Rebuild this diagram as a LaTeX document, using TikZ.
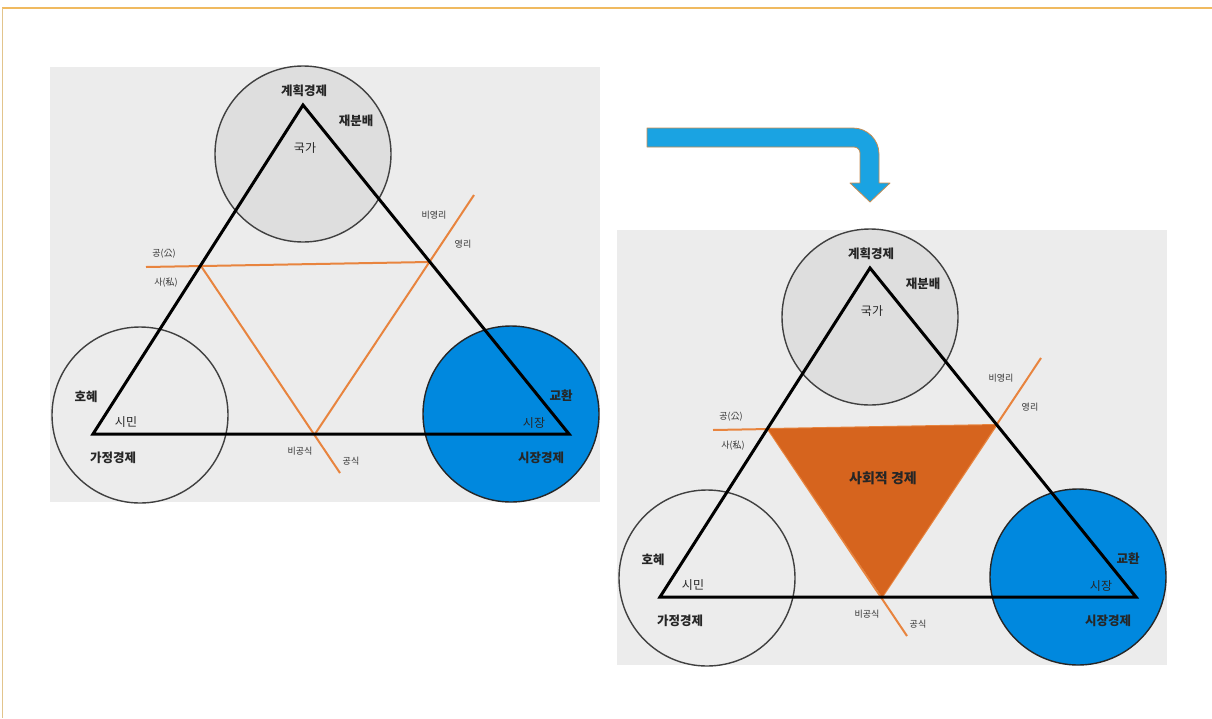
\documentclass[tikz,border=0pt]{standalone}
\usepackage{fontspec}
\setmainfont{Noto Sans CJK KR}
\newfontfamily\kr{Noto Sans CJK KR}
\definecolor{bggray}{RGB}{236,236,236}
\definecolor{topgray}{RGB}{222,222,222}
\definecolor{mblue}{RGB}{0,136,222}
\definecolor{oline}{RGB}{232,132,62}
\definecolor{ofill}{RGB}{214,100,30}
\definecolor{arrblue}{RGB}{26,163,226}
\definecolor{arredge}{RGB}{200,140,80}
\definecolor{frameor}{RGB}{240,186,96}
\definecolor{frameleft}{RGB}{226,196,140}
\tikzset{
  panelbg/.style={fill=bggray, draw=none},
  circ/.style={circle, draw=black!75, line width=1.4pt, minimum size=176pt, inner sep=0pt},
  tri/.style={draw=black, line width=3pt, line join=miter},
  oline/.style={draw=oline, line width=2pt},
  big/.style={font=\kr\fontsize{12.5}{13}\selectfont\bfseries, text=black!85, inner sep=0pt},
  mid/.style={font=\kr\fontsize{12}{13}\selectfont, text=black!85, inner sep=0pt},
  small/.style={font=\kr\fontsize{9}{10}\selectfont, text=black!80, inner sep=0pt},
  social/.style={font=\kr\fontsize{14}{15}\selectfont\bfseries, text=black!85, inner sep=0pt},
  bentarrow/.style={fill=arrblue, draw=arredge, line width=0.8pt, line join=round}
}
\newcommand{\drawpanel}[1]{%
  \fill[panelbg] (50,67) rectangle (600,502);
  \node[circ, fill=topgray] (ctop) at (303,154) {};
  \node[circ] (cleft) at (140,415) {};
  \node[circ, fill=mblue, draw=black!85] (cright) at (511,414) {};
  \coordinate (A) at (303,105);
  \coordinate (B) at (93,434);
  \coordinate (C) at (569,434);
  \coordinate (oL) at (146,267);
  \coordinate (P) at (201,266);
  \coordinate (Q) at (429,262);
  \coordinate (oR) at (474,195);
  \coordinate (R) at (315,434);
  \coordinate (oB) at (340,473);
  \draw[oline] (oL) -- (Q);
  \draw[oline] (P) -- (oB);
  \draw[oline] (oR) -- (R);
  #1
  \draw[tri] (A) -- (B) -- (C) -- cycle;
  \node[big] (t1) at (304,91) {계획경제};
  \node[big] (t2) at (356,121) {재분배};
  \node[mid] (t3) at (305,148) {국가};
  \node[small] (t4) at (434,215) {비영리};
  \node[small] (t5) at (463,244) {영리};
  \node[small] (t6) at (164,254) {공(公)};
  \node[small] (t7) at (166,283) {사(私)};
  \node[big] (t8) at (86,397) {호혜};
  \node[mid] (t9) at (126,422) {시민};
  \node[big] (t10) at (113,458) {가정경제};
  \node[small] (t11) at (300,451) {비공식};
  \node[small] (t12) at (351,461) {공식};
  \node[big] (t13) at (561,396) {교환};
  \node[mid] (t14) at (534,423) {시장};
  \node[big] (t15) at (541,458) {시장경제};
}
\begin{document}
\begin{tikzpicture}[x=1pt,y=-1pt]
\useasboundingbox (0,0) rectangle (1212,718);
\fill[white] (0,0) rectangle (1212,718);
% frame
\coordinate (fTL) at (2,7.5);
\coordinate (fTR) at (1212,7.5);
\coordinate (fBL) at (2,718);
\draw[frameor, line width=2pt] (fTL) -- (fTR);
\draw[frameleft, line width=0.8pt] (fTL) -- (fBL);
% left panel
\begin{scope}[name prefix=L-]
\drawpanel{}
\end{scope}
% right panel
\begin{scope}[shift={(567,163)}, name prefix=R-]
\drawpanel{\fill[ofill] (P) -- (Q) -- (R) -- cycle;
  \node[social] (soc) at (316,315) {사회적 경제};}
\end{scope}
% bent arrow
\coordinate (a1) at (647,128);
\coordinate (a2) at (879,128);
\coordinate (a3) at (879,183);
\coordinate (a4) at (890,183);
\coordinate (a5) at (870,202);
\coordinate (a6) at (850,183);
\coordinate (a7) at (860,183);
\coordinate (a8) at (860,147);
\coordinate (a9) at (647,147);
\draw[bentarrow] (a1) [rounded corners=26pt] -- (a2) [sharp corners] -- (a3) -- (a4) -- (a5) -- (a6) -- (a7) [rounded corners=6pt] -- (a8) [sharp corners] -- (a9) -- cycle;
\end{tikzpicture}
\end{document}
